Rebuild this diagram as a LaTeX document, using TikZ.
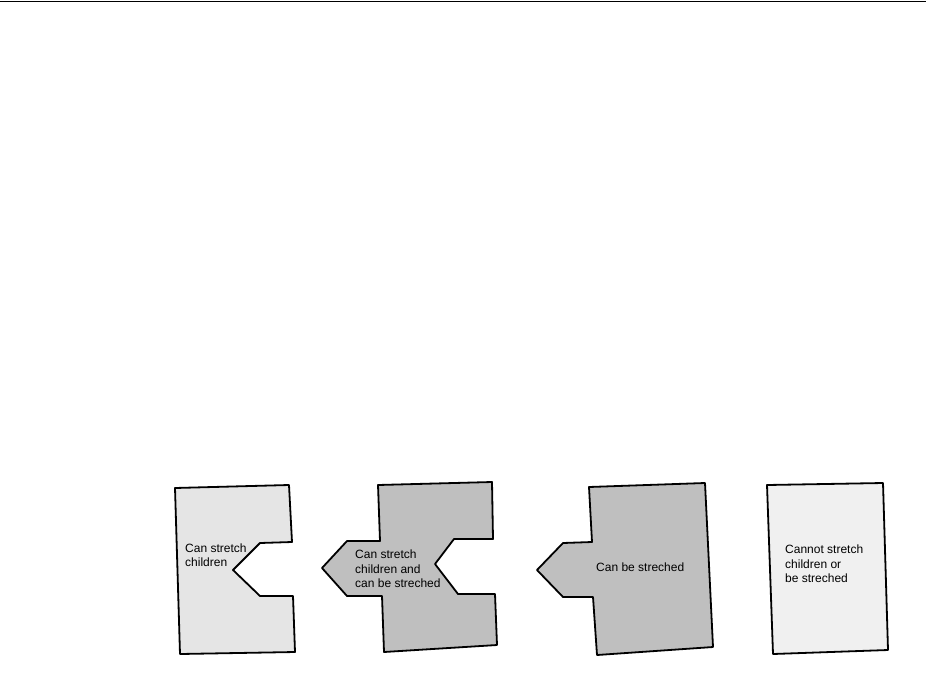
\documentclass[tikz,border=0pt]{standalone}
\usepackage{fontspec}
\setmainfont{Liberation Sans}
\usepackage{tikz}
\colorlet{edgecol}{black}
\colorlet{palecol}{black!10!white}
\colorlet{midcol}{black!25!white}
\colorlet{blankcol}{black!6!white}
\tikzset{
  piece/.style={draw=edgecol, line width=1.8pt, line join=round},
  caption/.style={anchor=west, inner sep=0pt, align=left,
    font=\fontsize{12}{14.5}\selectfont}
}

\begin{document}
\begin{tikzpicture}[x=1pt, y=-1pt]

  % Page frame.
  \useasboundingbox (0,0) rectangle (928,678);
  \draw[line width=1pt] (0,1.5) -- (926,1.5);

  % Piece 1: notch only.
  \draw[piece, fill=palecol] (175,488) -- (289,485) -- (292,542) -- (260,543)
    -- (233,570) -- (260,596) -- (293,596) -- (295,652) -- (180,654) -- cycle;
  \node[caption] (stretchkids) at (185,555) {Can stretch\\children};

  % Piece 2: notch and tab.
  \draw[piece, fill=midcol] (378,485) -- (492,482) -- (493,539) -- (454,539)
    -- (435,564) -- (458,594) -- (495,594) -- (497,645) -- (384,652)
    -- (382,596) -- (347,596) -- (322,568) -- (347,541) -- (380,541) -- cycle;
  \node[caption] (both) at (355,569) {Can stretch\\children and\\can be streched};

  % Piece 3: tab only.
  \draw[piece, fill=midcol] (589,487) -- (705,483) -- (713,647) -- (597,655)
    -- (593,597) -- (563,597) -- (537,570) -- (563,543) -- (592,542) -- cycle;
  \node[caption] (stretched) at (596,567) {Can be streched};

  % Piece 4: plain block.
  \draw[piece, fill=blankcol] (767,485) -- (883,483) -- (888,650) -- (773,654) -- cycle;
  \node[caption] (neither) at (785,564) {Cannot stretch\\children or\\be streched};

\end{tikzpicture}
\end{document}
